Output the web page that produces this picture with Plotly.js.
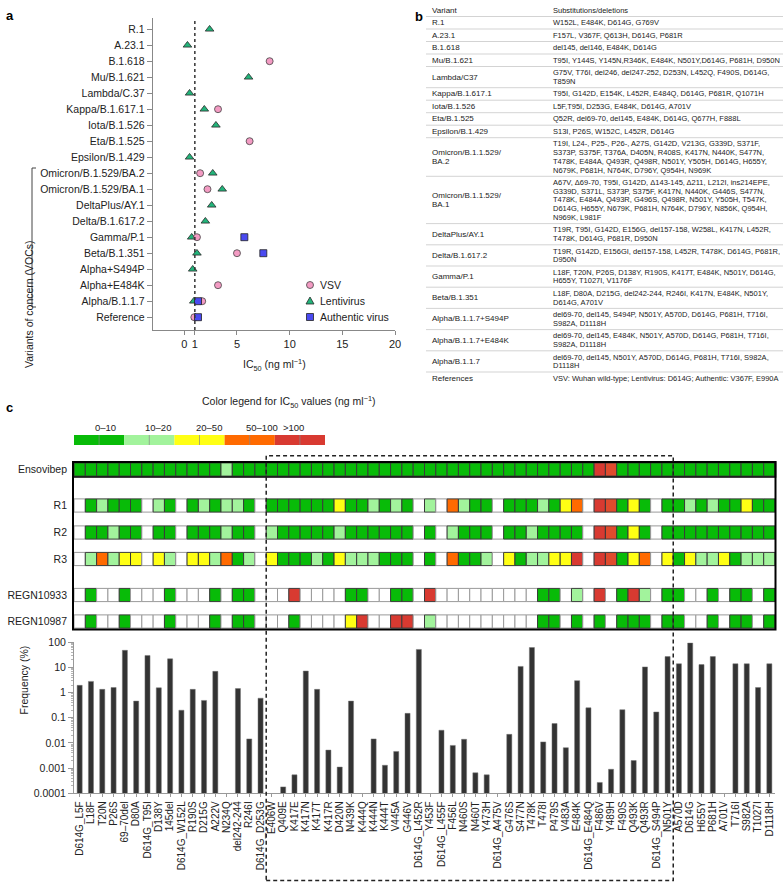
<!DOCTYPE html>
<html><head><meta charset="utf-8">
<script src="https://cdn.plot.ly/plotly-3.0.1.min.js"></script>
<style>html,body{margin:0;padding:0;background:#fff}#chart{width:784px;height:882px}</style>
</head><body><div id="chart"></div>
<script>
// ---------- Panel a data ----------
const variants = ['R.1','A.23.1','B.1.618','Mu/B.1.621','Lambda/C.37','Kappa/B.1.617.1','Iota/B.1.526','Eta/B.1.525','Epsilon/B.1.429','Omicron/B.1.529/BA.2','Omicron/B.1.529/BA.1','DeltaPlus/AY.1','Delta/B.1.617.2','Gamma/P.1','Beta/B.1.351','Alpha+S494P','Alpha+E484K','Alpha/B.1.1.7','Reference'];
const icVSV   = [null,null,8.1,null,null,3.2,null,6.2,null,1.5,2.2,null,null,1.2,5.0,null,3.2,1.7,0.95];
const icLenti = [2.4,0.3,null,6.1,0.5,1.9,3.0,null,0.5,2.7,3.6,2.6,2.0,0.7,1.2,0.8,null,0.9,1.05];
const icAuth  = [null,null,null,null,null,null,null,null,null,null,null,null,null,5.7,7.5,null,null,1.3,1.3];
const icTicks = [0,1,5,10,15,20];
const seriesNames = ['VSV','Lentivirus','Authentic virus'];

// ---------- Panel b data ----------
const tableVariants = ['Variant','R.1','A.23.1','B.1.618','Mu/B.1.621','Lambda/C37','Kappa/B.1.617.1','Iota/B.1.526','Eta/B.1.525','Epsilon/B.1.429','Omicron/B.1.1.529/\nBA.2','Omicron/B.1.1.529/\nBA.1','DeltaPlus/AY.1','Delta/B.1.617.2','Gamma/P.1','Beta/B.1.351','Alpha/B.1.1.7+S494P','Alpha/B.1.1.7+E484K','Alpha/B.1.1.7','References'];
const tableMutations = [
 'Substitutions/deletions',
 'W152L, E484K, D614G, G769V',
 'F157L, V367F, Q613H, D614G, P681R',
 'del145, del146, E484K, D614G',
 'T95I, Y144S, Y145N,R346K, E484K, N501Y,D614G, P681H, D950N',
 'G75V, T76I, del246, del247-252, D253N, L452Q, F490S, D614G,\nT859N',
 'T95I, G142D, E154K, L452R, E484Q, D614G, P681R, Q1071H',
 'L5F,T95I, D253G, E484K, D614G, A701V',
 'Q52R, del69-70, del145, E484K, D614G, Q677H, F888L',
 'S13I, P26S, W152C, L452R, D614G',
 'T19I, L24-, P25-, P26-, A27S, G142D, V213G, G339D, S371F,\nS373P, S375F, T376A, D405N, R408S, K417N, N440K, S477N,\nT478K, E484A, Q493R, Q498R, N501Y, Y505H, D614G, H655Y,\nN679K, P681H, N764K, D796Y, Q954H, N969K',
 'A67V, Δ69-70, T95I, G142D, Δ143-145, Δ211, L212I, ins214EPE,\nG339D, S371L, S373P, S375F, K417N, N440K, G446S, S477N,\nT478K, E484A, Q493R, G496S, Q498R, N501Y, Y505H, T547K,\nD614G, H655Y, N679K, P681H, N764K, D796Y, N856K, Q954H,\nN969K, L981F',
 'T19R, T95I, G142D, E156G, del157-158, W258L, K417N, L452R,\nT478K, D614G, P681R, D950N',
 'T19R, G142D, E156GI, del157-158, L452R, T478K, D614G, P681R,\nD950N',
 'L18F, T20N, P26S, D138Y, R190S, K417T, E484K, N501Y, D614G,\nH655Y, T1027I, V1176F',
 'L18F, D80A, D215G, del242-244, R246I, K417N, E484K, N501Y,\nD614G, A701V',
 'del69-70, del145, S494P, N501Y, A570D, D614G, P681H, T716I,\nS982A, D1118H',
 'del69-70, del145, E484K, N501Y, A570D, D614G, P681H, T716I,\nS982A, D1118H',
 'del69-70, del145, N501Y, A570D, D614G, P681H, T716I, S982A,\nD1118H',
 'VSV: Wuhan wild-type; Lentivirus: D614G; Authentic: V367F, E990A'
];

// ---------- Panel c data ----------
const mutations = ['D614G_L5F','L18F','T20N','P26S','69–70del','D80A','D614G_T95I','D138Y','145del','D614G_W152L','R190S','D215G','A222V','N234Q','del242-244','R246I','D614G_D253G','E406W','Q409E','K417E','K417N','K417T','K417R','D420N','N439K','K444Q','K444N','K444T','V445A','G446V','D614G_L452R','Y453F','D614G_L455F','F456L','N460S','N460T','Y473H','D614G_A475V','G476S','S477N','T478K','T478I','P479S','V483A','E484K','D614G_E484Q','F486V','Y489H','F490S','Q493K','Q493R','D614G_S494P','N501Y','A570D','D614G','H655Y','P681H','A701V','T716I','S982A','T1027I','D1118H'];
const frequency = [1.95,2.8,1.35,1.6,48,0.46,30,1.55,22,0.2,1.35,0.49,7,null,1.45,0.0145,0.6,null,0.00018,0.00054,7.2,1.35,0.0052,0.0011,0.46,null,0.0145,0.0013,0.0046,0.15,52,null,0.032,0.008,0.014,0.00065,0.00054,null,0.022,11,62,0.011,0.059,0.0065,3.0,0.25,0.00027,0.0009,0.21,0.002,10.5,0.17,27,14,94,13,27,null,14,14,1.6,14];
// IC50 class per cell: 0 none, 1 0-10, 2 10-20, 3 20-50, 4 50-100, 5 >100, 6 >100 (second shade)
const rowNames = ['Ensovibep','R1','R2','R3','REGN10933','REGN10987'];
const ensovibep = [1,1,1,1,1,1,1,1,1,1,1,1,1,2,1,1,1, 1,1,1,1,1,1,1,1,1,1,1,1, 1,1,1,1,1,1,1,1,1,1,1,1,1,1,1,1,1,5,6,1,1,1,1,1,1,1,1,1,1,1,1,1,1];
const r1 = [0,1,2,1,1,1,0,2,1,0,1,2,1,2,2,1,0, 1,1,1,1,1,1,3,1,1,2,1,2, 1,0,2,0,4,2,1,1,0,1,1,1,2,1,3,4,0,5,6,1,3,1,0,1,1,2,1,2,1,1,3,1,1];
const r2 = [0,1,1,2,1,1,0,1,1,0,1,1,1,2,1,1,0, 2,1,1,1,1,1,2,1,1,1,1,1, 1,0,1,0,2,1,1,1,0,1,1,2,1,1,1,1,0,5,6,1,3,1,0,1,1,1,1,1,1,1,1,1,1];
const r3 = [0,2,4,2,3,3,0,3,2,0,3,3,2,4,1,2,0, 3,1,1,1,2,1,3,2,2,2,1,1, 1,0,1,0,4,1,1,2,0,3,1,2,2,3,3,5,0,5,6,1,3,4,0,3,1,3,2,2,3,1,2,2,2];
const regn10933 = [0,1,0,0,1,0,0,0,1,0,0,0,1,0,1,1,0, 0,0,5,0,0,0,0,1,1,0,0,1, 1,0,5,0,0,0,0,0,0,0,0,0,1,1,0,2,0,5,0,1,5,2,0,1,1,0,0,1,0,1,1,0,1];
const regn10987 = [0,1,0,0,1,0,0,0,1,0,0,0,1,0,1,1,0, 0,0,1,0,0,0,0,3,5,0,0,5, 5,0,2,0,0,0,0,0,0,0,0,0,1,1,0,1,0,1,0,1,1,1,0,1,1,0,0,1,0,1,1,0,1];
const heatRows = [ensovibep, r1, r2, r3, regn10933, regn10987];
const legendLabels = ['0–10','10–20','20–50','50–100','>100'];

// ---------- styling / layout helpers ----------
const W = 784, H = 882;
const X = p => p / W, Y = p => 1 - p / H;
const FONT = 'Liberation Sans, Arial, Helvetica, sans-serif';
const palette = ['#ffffff','#08bb08','#a2f39c','#ffff14','#ff6a00','#d83a31','#e04b2d'];
const rowPx = [469.5, 505.5, 532.5, 559, 595, 621.5];
const cellH = 13.2;
const seriesStyle = [
  {symbol:'circle', size:7, color:'#f39bc3', line:'#444'},
  {symbol:'triangle-up', size:7.5, color:'#22b47a', line:'#2a2a2a'},
  {symbol:'square', size:7, color:'#4a4af0', line:'#222'}
];
const seriesData = [icVSV, icLenti, icAuth];

const traces = [];
// Panel a (draw order: Lentivirus, VSV, Authentic)
[1, 0, 2].forEach(s => {
  const st = seriesStyle[s];
  traces.push({type:'scatter', mode:'markers', name:seriesNames[s], x:seriesData[s], y:variants, xaxis:'x', yaxis:'y', showlegend:false,
    marker:{symbol:st.symbol, size:st.size, color:st.color, line:{color:st.line, width:0.8}}, hoverinfo:'skip'});
});

// Panel c heat rows as bars
heatRows.forEach((codes, r) => {
  traces.push({type:'bar', x:mutations, y:codes.map(()=>cellH), base:codes.map(()=>rowPx[r]-cellH/2), width:1,
    xaxis:'x2', yaxis:'y2', showlegend:false, hoverinfo:'skip',
    marker:{color:codes.map(c=>palette[c]), line:{color:codes.map(c=>c? '#3a3a3a':'#9a9a9a'), width:1}}});
});
// frequency bars
traces.push({type:'bar', x:mutations, y:frequency, width:0.45, xaxis:'x3', yaxis:'y3', showlegend:false, hoverinfo:'skip',
  marker:{color:'#333333', line:{color:'#777', width:0.5}}});

const shapes = [], annotations = [];
const ann = (x, y, text, o={}) => annotations.push(Object.assign({xref:'paper', yref:'paper', x:X(x), y:Y(y), text, showarrow:false,
  font:{family:FONT, size:10.5, color:'#222'}}, o));

// panel labels
ann(4, 6, '<b>a</b>', {font:{family:FONT, size:13, color:'#000'}});
ann(419, 7, '<b>b</b>', {font:{family:FONT, size:13, color:'#000'}});
ann(4, 407, '<b>c</b>', {font:{family:FONT, size:13, color:'#000'}});

// panel a extras
shapes.push({type:'line', xref:'x', yref:'paper', x0:1, x1:1, y0:Y(330), y1:Y(18), line:{color:'#333', width:1.5, dash:'dot'}});
shapes.push({type:'line', xref:'paper', yref:'paper', x0:X(32), x1:X(32), y0:Y(168), y1:Y(307), line:{color:'#444', width:1}});
shapes.push({type:'line', xref:'paper', yref:'paper', x0:X(32), x1:X(36), y0:Y(168), y1:Y(168), line:{color:'#444', width:1}});
shapes.push({type:'line', xref:'paper', yref:'paper', x0:X(32), x1:X(36), y0:Y(307), y1:Y(307), line:{color:'#444', width:1}});
ann(21, 238, 'Variants of concern (VOCs)', {textangle:-90});
ann(274, 365, 'IC<sub>50</sub> (ng ml<sup>−1</sup>)');

// panel a legend (symbol key)
seriesNames.forEach((nm, s) => {
  const cy = 285 + 16*s, cx = 310, st = seriesStyle[s], r = 3.5;
  let shp;
  if (st.symbol === 'circle') shp = {type:'circle', x0:X(cx-r), x1:X(cx+r), y0:Y(cy+r), y1:Y(cy-r)};
  else if (st.symbol === 'square') shp = {type:'rect', x0:X(cx-r), x1:X(cx+r), y0:Y(cy+r), y1:Y(cy-r)};
  else shp = {type:'path', path:`M ${X(cx-4)} ${Y(cy+3)} L ${X(cx+4)} ${Y(cy+3)} L ${X(cx)} ${Y(cy-4)} Z`};
  shapes.push(Object.assign(shp, {xref:'paper', yref:'paper', fillcolor:st.color, line:{color:st.line, width:0.8}}));
  ann(318, cy, nm, {xanchor:'left', yanchor:'middle', font:{family:FONT, size:10.5, color:'#222'}});
});

// panel b table
{
  const Lp = 8.7, P = 3.8;
  let top = 4;
  tableVariants.forEach((v, r) => {
    const left = v.split('\n'), right = tableMutations[r].split('\n');
    const n = Math.max(left.length, right.length);
    const h = n*Lp + P;
    right.forEach((t, k) => ann(551, top + P/2 + Lp/2 + k*Lp, t, {xanchor:'left', yanchor:'middle', font:{family:FONT, size:7.5, color:'#222'}}));
    const ls = top + h/2 - left.length*Lp/2 + Lp/2;
    left.forEach((t, k) => ann(430, ls + k*Lp, t, {xanchor:'left', yanchor:'middle', font:{family:FONT, size:8, color:'#222'}}));
    top += h;
    if (r < tableVariants.length - 1)
      shapes.push({type:'line', xref:'paper', yref:'paper', x0:X(426), x1:X(783), y0:Y(top), y1:Y(top), line:{color:'#c8c8c8', width:0.8}});
  });
}

// colour legend
ann(200, 402, 'Color legend for IC<sub>50</sub> values (ng ml<sup>−1</sup>)');
legendLabels.forEach((lab, k) => {
  const x0 = 74 + 50.2*k, x1 = x0 + 50.2;
  shapes.push({type:'rect', xref:'paper', yref:'paper', x0:X(x0), x1:X(x1), y0:Y(445), y1:Y(435), fillcolor:palette[k+1], line:{width:0}});
  shapes.push({type:'line', xref:'paper', yref:'paper', x0:X((x0+x1)/2), x1:X((x0+x1)/2), y0:Y(445), y1:Y(435), line:{color:'#888', width:0.7}});
  ann((x0+x1)/2 - 6, 427, lab, {font:{family:FONT, size:9.5, color:'#222'}});
});

// heatmap frame
shapes.push({type:'rect', xref:'paper', yref:'paper', x0:X(73), x1:X(775.5), y0:Y(629.5), y1:Y(462), line:{color:'#000', width:2}});
shapes.push({type:'rect', xref:'paper', yref:'paper', x0:X(73), x1:X(775.5), y0:Y(477), y1:Y(462), line:{color:'#000', width:1.6}});
// dashed RBD box
shapes.push({type:'rect', xref:'x2', yref:'paper', x0:16.5, x1:52.5, y0:Y(880.5), y1:Y(455.7), line:{color:'#222', width:1.5, dash:'4px,3px'}});

ann(15, 717, 'Frequency (%)', {textangle:-90});

const layout = {
  width:W, height:H, margin:{l:0, r:0, t:0, b:0}, paper_bgcolor:'#fff', plot_bgcolor:'rgba(0,0,0,0)',
  font:{family:FONT, size:10.5, color:'#222'}, barmode:'overlay', hovermode:false, showlegend:false,
  xaxis:{domain:[X(152.7), X(395)], anchor:'y', range:[-3, 20], tickmode:'array', tickvals:icTicks, ticks:'outside', ticklen:4, tickcolor:'#888',
    showline:true, linecolor:'#888', linewidth:1, showgrid:false, zeroline:false, tickfont:{size:11}, fixedrange:true},
  yaxis:{domain:[Y(330), Y(18)], anchor:'x', type:'category', categoryarray:variants, range:[18.8, -0.7], ticks:'outside', ticklen:5, tickcolor:'#888',
    showline:true, linecolor:'#888', linewidth:1, showgrid:false, zeroline:false, tickfont:{size:10.5}, fixedrange:true},
  xaxis2:{domain:[X(74), X(775)], anchor:'y2', type:'category', categoryarray:mutations, range:[-0.5, 61.5], showticklabels:false, ticks:'',
    showline:false, showgrid:false, zeroline:false, fixedrange:true},
  yaxis2:{domain:[Y(630), Y(462)], anchor:'x2', range:[630, 462], tickmode:'array', tickvals:rowPx, ticktext:rowNames, ticks:'',
    ticklabelstandoff:6, showline:false, showgrid:false, zeroline:false, tickfont:{size:10.5}, fixedrange:true},
  xaxis3:{domain:[X(74), X(775)], anchor:'y3', type:'category', categoryarray:mutations, range:[-0.5, 61.5], tickangle:-90, tickfont:{size:10},
    tickmode:'array', tickvals:mutations, ticktext:mutations,
    ticks:'outside', ticklen:3, tickcolor:'#999', showline:true, linecolor:'#999', linewidth:1, showgrid:false, zeroline:false, fixedrange:true},
  yaxis3:{domain:[Y(793.3), Y(642.3)], anchor:'x3', type:'log', range:[-4, 2], tickmode:'array',
    tickvals:[0.0001,0.001,0.01,0.1,1,10,100], ticktext:['0.0001','0.001','0.01','0.1','1','10','100'],
    ticks:'outside', ticklen:5, tickcolor:'#999', showline:true, linecolor:'#999', linewidth:1, showgrid:false, zeroline:false,
    minor:{ticks:'outside', ticklen:2.5, tickcolor:'#b5b5b5', dtick:'D1', showgrid:false}, tickfont:{size:10.5}, fixedrange:true},
  shapes, annotations
};
Plotly.newPlot('chart', traces, layout, {staticPlot:true, displayModeBar:false});
</script></body></html>
